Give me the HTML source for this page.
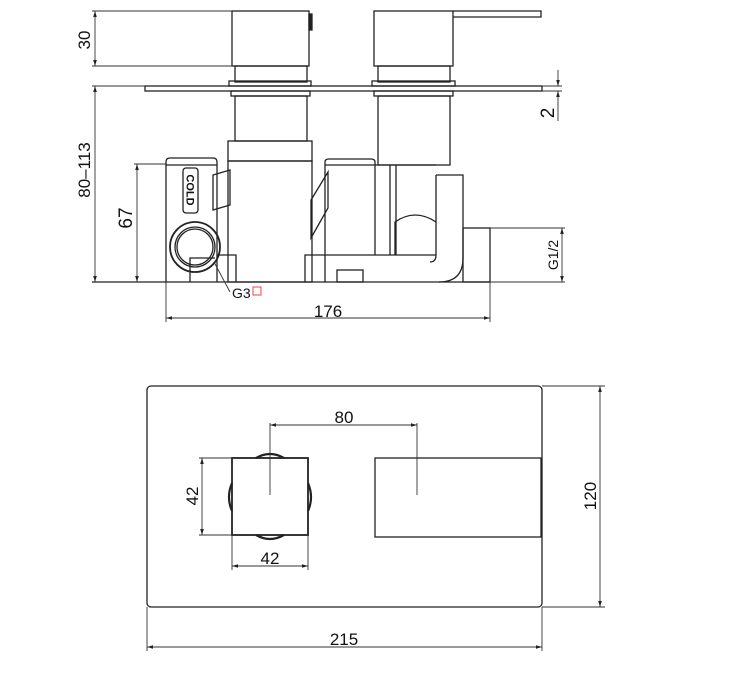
<!DOCTYPE html>
<html><head><meta charset="utf-8"><style>
html,body{margin:0;padding:0;background:#fff;}
svg{display:block;}
text{font-family:"Liberation Sans",sans-serif;fill:#111;}
</style></head><body>
<svg width="750" height="700" viewBox="0 0 750 700" xmlns="http://www.w3.org/2000/svg">
<defs>
<marker id="a" viewBox="0 0 10 10" refX="10" refY="5" markerWidth="8" markerHeight="6" orient="auto-start-reverse" markerUnits="userSpaceOnUse"><path d="M0,2 L10,5 L0,8 z" fill="#222"/></marker>
</defs>
<g fill="none" stroke="#222" stroke-width="1.3">
<rect x="232" y="11" width="77" height="55"/>
<rect x="309" y="14" width="3" height="16" fill="#222"/>
<rect x="374" y="11" width="79" height="55"/>
<path d="M453,11 L541,11 L541,17 L453,17"/>
<rect x="235" y="66" width="72" height="16"/>
<rect x="378" y="66" width="72" height="16"/>
<rect x="229" y="81" width="82" height="5"/>
<rect x="372" y="81" width="83" height="5"/>
<rect x="145" y="86" width="397" height="5"/>
<rect x="231" y="91" width="79" height="5"/>
<rect x="374" y="91" width="79" height="5"/>
<rect x="235" y="96" width="72" height="45"/>
<rect x="228" y="141" width="84" height="20"/>
<rect x="228" y="161" width="84" height="121"/>
<path d="M166,282 L166,162 Q166,158 170,158 L213,158 Q217,158 217,162 L217,282"/>
<line x1="166" y1="165" x2="217" y2="165"/>
<rect x="183" y="168" width="15" height="45" rx="3"/>
<path d="M213,175 L230,170 L230,205 L213,210 z"/>
<circle cx="195" cy="247" r="25" stroke-width="1.8"/>
<circle cx="195" cy="247" r="20"/>
<circle cx="195" cy="247" r="18"/>
<path d="M190,282 L190,258 L215,258"/>
<path d="M217,255 L236,255 L236,282"/>
<rect x="378" y="96" width="72" height="69"/>
<path d="M325,282 L325,162 Q325,159 329,159 L371,159 Q375,159 375,162 L375,255"/>
<line x1="325" y1="165" x2="375" y2="165"/>
<path d="M311,200 L328,172 L328,208 L311,238 z"/>
<line x1="390" y1="165" x2="390" y2="255"/>
<line x1="396" y1="165" x2="396" y2="255"/>
<line x1="375" y1="165" x2="436" y2="165"/>
<path d="M395,255 L395,222 Q415,208 436,222"/>
<path d="M305,282 L305,255 L436,255"/>
<rect x="337" y="270" width="26" height="12"/>
<path d="M436,175 L463,175 L463,258 Q463,282 439,282"/>
<path d="M436,175 L436,255 Q436,262 430,262"/>
<rect x="463" y="228" width="27" height="54"/>
<line x1="92" y1="282" x2="490" y2="282"/>
</g>
<g fill="none" stroke="#333" stroke-width="0.9">
<line x1="92" y1="11" x2="232" y2="11"/><line x1="92" y1="66" x2="232" y2="66"/>
<line x1="95" y1="11" x2="95" y2="66" marker-start="url(#a)" marker-end="url(#a)"/>
<line x1="92" y1="86" x2="145" y2="86"/>
<line x1="95" y1="86" x2="95" y2="282" marker-start="url(#a)" marker-end="url(#a)"/>
<line x1="134" y1="164" x2="166" y2="164"/>
<line x1="137" y1="164" x2="137" y2="282" marker-start="url(#a)" marker-end="url(#a)"/>
<line x1="542" y1="86" x2="562" y2="86"/><line x1="542" y1="91" x2="562" y2="91"/>
<line x1="558" y1="70" x2="558" y2="86" marker-end="url(#a)"/>
<line x1="558" y1="121" x2="558" y2="91" marker-end="url(#a)"/>
<line x1="490" y1="228" x2="565" y2="228"/><line x1="490" y1="282" x2="565" y2="282"/>
<line x1="562" y1="228" x2="562" y2="282" marker-start="url(#a)" marker-end="url(#a)"/>
<line x1="166" y1="282" x2="166" y2="322"/><line x1="490" y1="282" x2="490" y2="322"/>
<line x1="166" y1="318" x2="490" y2="318" marker-start="url(#a)" marker-end="url(#a)"/>
<path d="M214,262 L230,292"/>
</g>
<text font-size="17" transform="translate(95,40) rotate(-90)" text-anchor="middle" dy="-5">30</text>
<text font-size="17" transform="translate(95,170) rotate(-90)" text-anchor="middle" dy="-5">80–113</text>
<text font-size="19" transform="translate(137,218) rotate(-90)" text-anchor="middle" dy="-5">67</text>
<text font-size="19" transform="translate(558,113) rotate(-90)" text-anchor="middle" dy="-4">2</text>
<text font-size="14" transform="translate(562,255) rotate(-90)" text-anchor="middle" dy="-4">G1/2</text>
<text x="328" y="317" font-size="17" text-anchor="middle">176</text>
<text x="232" y="298" font-size="14">G3</text>
<rect x="253" y="287" width="8" height="8" fill="none" stroke="#e44" stroke-width="1"/>
<text font-size="11" font-weight="bold" transform="translate(190.5,190) rotate(90)" text-anchor="middle" dy="4">COLD</text>
<g fill="none" stroke="#222" stroke-width="1.3">
<rect x="147" y="386" width="395" height="221" rx="4"/>
<rect x="232" y="458" width="76" height="77" stroke-width="1.8"/>
<path d="M256,458 Q270,450 284,458 M256,535 Q270,543 284,535 M232,483 Q226,497 232,511 M308,483 Q314,497 308,511" stroke-width="2.2"/>
<rect x="375" y="458" width="166" height="79"/>
</g>
<g fill="none" stroke="#333" stroke-width="0.9">
<line x1="270" y1="423" x2="270" y2="495"/><line x1="417" y1="423" x2="417" y2="495"/>
<line x1="270" y1="425" x2="417" y2="425" marker-start="url(#a)" marker-end="url(#a)"/>
<line x1="199" y1="458" x2="232" y2="458"/><line x1="199" y1="535" x2="232" y2="535"/>
<line x1="202" y1="458" x2="202" y2="535" marker-start="url(#a)" marker-end="url(#a)"/>
<line x1="232" y1="535" x2="232" y2="570"/><line x1="308" y1="535" x2="308" y2="570"/>
<line x1="232" y1="566" x2="308" y2="566" marker-start="url(#a)" marker-end="url(#a)"/>
<line x1="542" y1="386" x2="605" y2="386"/><line x1="542" y1="607" x2="605" y2="607"/>
<line x1="600" y1="386" x2="600" y2="607" marker-start="url(#a)" marker-end="url(#a)"/>
<line x1="147" y1="607" x2="147" y2="651"/><line x1="542" y1="607" x2="542" y2="651"/>
<line x1="147" y1="647" x2="542" y2="647" marker-start="url(#a)" marker-end="url(#a)"/>
</g>
<text x="344" y="423" font-size="17" text-anchor="middle">80</text>
<text x="270" y="564" font-size="17" text-anchor="middle">42</text>
<text font-size="17" transform="translate(202,496) rotate(-90)" text-anchor="middle" dy="-4">42</text>
<text font-size="17" transform="translate(600,496) rotate(-90)" text-anchor="middle" dy="-4">120</text>
<text x="344" y="645" font-size="17" text-anchor="middle">215</text>
</svg>
</body></html>
